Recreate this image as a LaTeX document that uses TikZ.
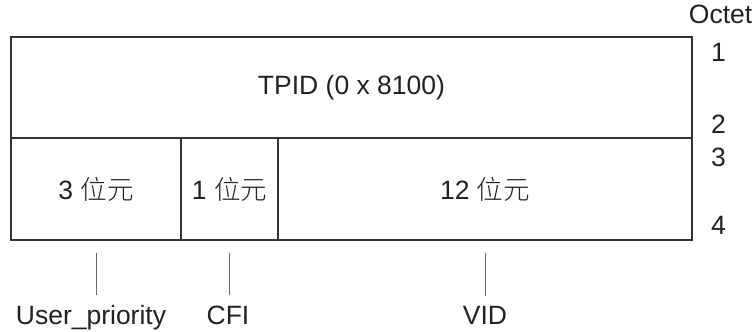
\documentclass[tikz,border=0pt]{standalone}
\usepackage{fontspec}
\setmainfont{Liberation Sans}
\newfontfamily\cjk{Noto Sans CJK TC}[UprightFont={* Light}]
\usetikzlibrary{positioning}
\definecolor{framegray}{HTML}{333333}
\definecolor{tickgray}{HTML}{666666}
\definecolor{textmain}{HTML}{222222}
\newcommand{\bits}[1]{#1~{\cjk 位元}}

\begin{document}
\begin{tikzpicture}[x=1pt, y=-1pt,
  every node/.style={font=\fontsize{26.5}{30}\selectfont, text=textmain},
  cell/.style={rectangle, draw=framegray, line width=1.2pt, inner sep=0pt, minimum height=102pt},
  fieldname/.style={inner sep=0pt, anchor=base},
  tickline/.style={draw=tickgray, line width=0.9pt},
]
\useasboundingbox (0,0) rectangle (753,332);

% Header word
\node[inner sep=0pt, anchor=east] (octet) at (752.5, 14) {Octet};

% Octet numbers
\foreach \n/\y in {1/52, 2/124, 3/157, 4/225} {
  \node[inner sep=0pt] (oct\n) at (718.5, \y) {\n};
}

% TPID row
\node[cell, minimum width=681pt, minimum height=101pt] (tpid) at (351.5, 87.5) {TPID (0 x 8100)};

% Tag control row
\node[cell, minimum width=170pt] (pri) at (96, 189) {\bits{3}};
\node[cell, minimum width=97pt] (cfi) at (229.5, 189) {\bits{1}};
\node[cell, minimum width=414pt] (vid) at (485, 189) {\bits{12}};

% Field names
\node[fieldname] (upri) at (91, 324) {User\_priority};
\node[fieldname] (ucfi) at (228, 324) {CFI};
\node[fieldname] (uvid) at (485, 324) {VID};

% Ticks from cells to names
\draw[tickline, shorten <=12pt, shorten >=10pt] (pri.south) -- (pri.south |- upri.north);
\draw[tickline, shorten <=12pt, shorten >=10pt] (cfi.south) -- (cfi.south |- ucfi.north);
\draw[tickline, shorten <=12pt, shorten >=10pt] (vid.south) -- (vid.south |- uvid.north);

\end{tikzpicture}
\end{document}
